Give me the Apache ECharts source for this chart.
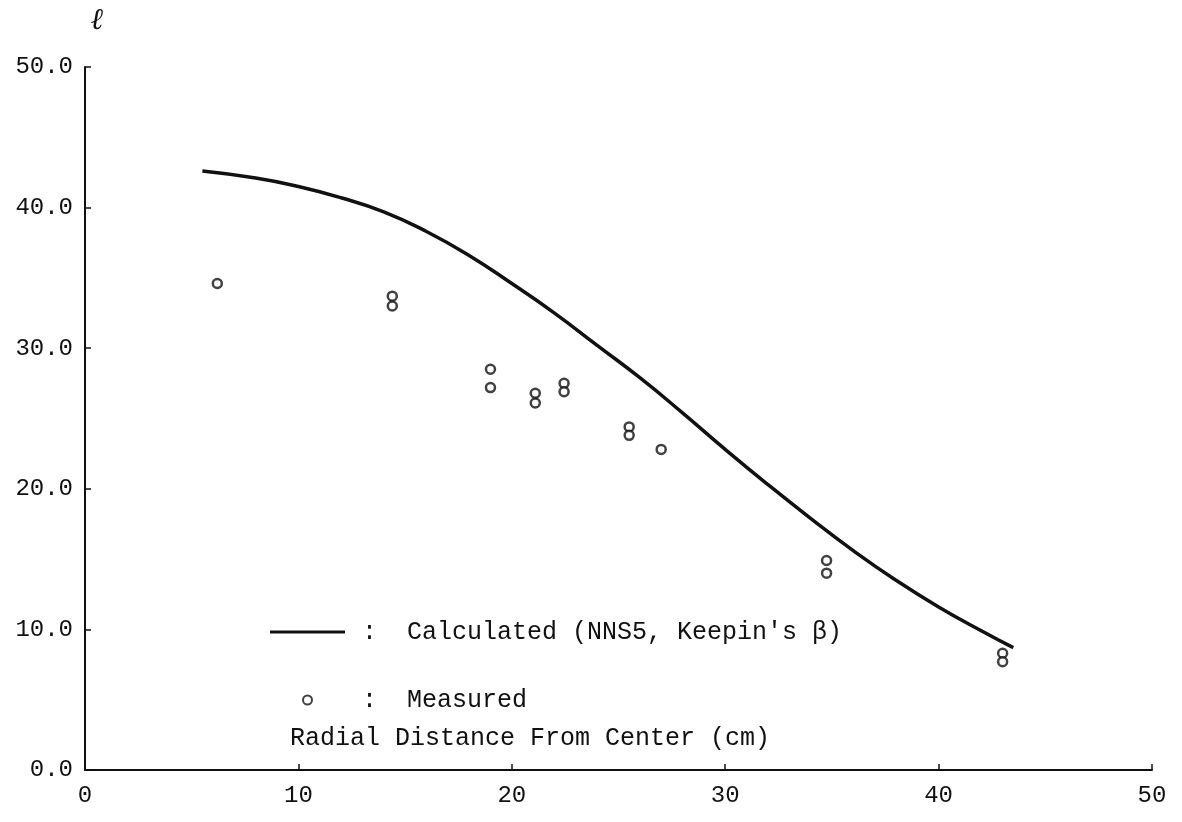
<!DOCTYPE html>
<html>
<head>
<meta charset="utf-8">
<script src="https://cdn.jsdelivr.net/npm/echarts@6/dist/echarts.min.js"></script>
<style>
  html, body { margin: 0; padding: 0; background: #ffffff; }
  #chart { width: 1182px; height: 822px; }
</style>
</head>
<body>
<div id="chart"></div>
<script>
// Calculated curve (NNS5, Keepin's beta): radial distance (cm) vs l
const calcX = [5.5, 8, 10, 12, 14, 16, 18, 20, 22, 24, 26, 28, 30, 32, 34, 36, 38, 40, 42, 43.5];
const calcY = [42.6, 42.1, 41.5, 40.7, 39.7, 38.3, 36.6, 34.6, 32.5, 30.2, 27.9, 25.4, 22.8, 20.3, 17.9, 15.6, 13.5, 11.6, 9.9, 8.7];

// Measured points
const measX = [6.2, 14.4, 14.4, 19.0, 19.0, 21.1, 21.1, 22.45, 22.45, 25.5, 25.5, 27.0, 34.75, 34.75, 43.0, 43.0];
const measY = [34.6, 33.7, 33.0, 28.5, 27.2, 26.8, 26.1, 27.5, 26.9, 24.4, 23.8, 22.8, 14.9, 14.0, 8.3, 7.7];

// Axis settings
const xTicks = [0, 10, 20, 30, 40, 50];
const yTicks = [0, 10, 20, 30, 40, 50];

const seriesNames = ['Calculated (NNS5, Keepin\'s \u03B2)', 'Measured'];
const xAxisTitle = 'Radial Distance From Center (cm)';
const yAxisTitle = '\u2113';

const ink = '#111111';
const mono = '"Liberation Mono", "DejaVu Sans Mono", monospace';

const chart = echarts.init(document.getElementById('chart'));

chart.setOption({
  backgroundColor: '#ffffff',
  animation: false,
  grid: { left: 85, right: 30, top: 67, bottom: 52, containLabel: false },
  legend: {
    left: 265,
    top: 612,
    orient: 'vertical',
    itemWidth: 75,
    itemHeight: 9,
    itemGap: 38,
    selectedMode: false,
    data: [
      { name: seriesNames[0], icon: 'path://M0,0 L75,0 L75,3 L0,3 Z', itemStyle: { color: ink } },
      { name: seriesNames[1], icon: 'emptyCircle', itemStyle: { color: ink, borderColor: ink, borderWidth: 2.2 } }
    ],
    formatter: function (name) { return ':  ' + name; },
    textStyle: {
      fontFamily: mono,
      fontSize: 25,
      color: ink,
      lineHeight: 30,
      padding: [0, 0, 0, 12]
    }
  },
  xAxis: {
    type: 'value',
    min: xTicks[0],
    max: xTicks[xTicks.length - 1],
    interval: 10,
    axisLine: { show: true, onZero: false, lineStyle: { color: ink, width: 2 } },
    axisTick: { show: true, inside: true, length: 6, lineStyle: { color: ink, width: 1.5 } },
    splitLine: { show: false },
    axisLabel: {
      margin: 14,
      fontFamily: mono,
      fontSize: 24,
      color: ink,
      customValues: xTicks,
      formatter: function (v) { return String(v); }
    }
  },
  yAxis: {
    type: 'value',
    min: yTicks[0],
    max: yTicks[yTicks.length - 1],
    interval: 10,
    axisLine: { show: true, onZero: false, lineStyle: { color: ink, width: 2 } },
    axisTick: { show: true, inside: true, length: 6, lineStyle: { color: ink, width: 1.5 } },
    splitLine: { show: false },
    axisLabel: {
      margin: 12,
      fontFamily: mono,
      fontSize: 24,
      color: ink,
      formatter: function (v) { return v.toFixed(1); }
    }
  },
  graphic: [
    {
      type: 'text',
      left: 91,
      top: 6,
      style: {
        text: yAxisTitle,
        font: 'italic bold 30px "DejaVu Serif", serif',
        fill: ink
      }
    },
    {
      type: 'text',
      left: 290,
      top: 726,
      style: {
        text: xAxisTitle,
        font: '25px ' + mono,
        fill: ink
      }
    }
  ],
  series: [
    {
      name: seriesNames[0],
      type: 'line',
      smooth: true,
      symbol: 'none',
      lineStyle: { color: ink, width: 3.5 },
      itemStyle: { color: ink },
      data: calcX.map((x, i) => [x, calcY[i]])
    },
    {
      name: seriesNames[1],
      type: 'scatter',
      symbol: 'circle',
      symbolSize: 9,
      itemStyle: { color: '#ffffff', borderColor: ink, borderWidth: 2.5 },
      data: measX.map((x, i) => [x, measY[i]])
    }
  ]
});
</script>
</body>
</html>
